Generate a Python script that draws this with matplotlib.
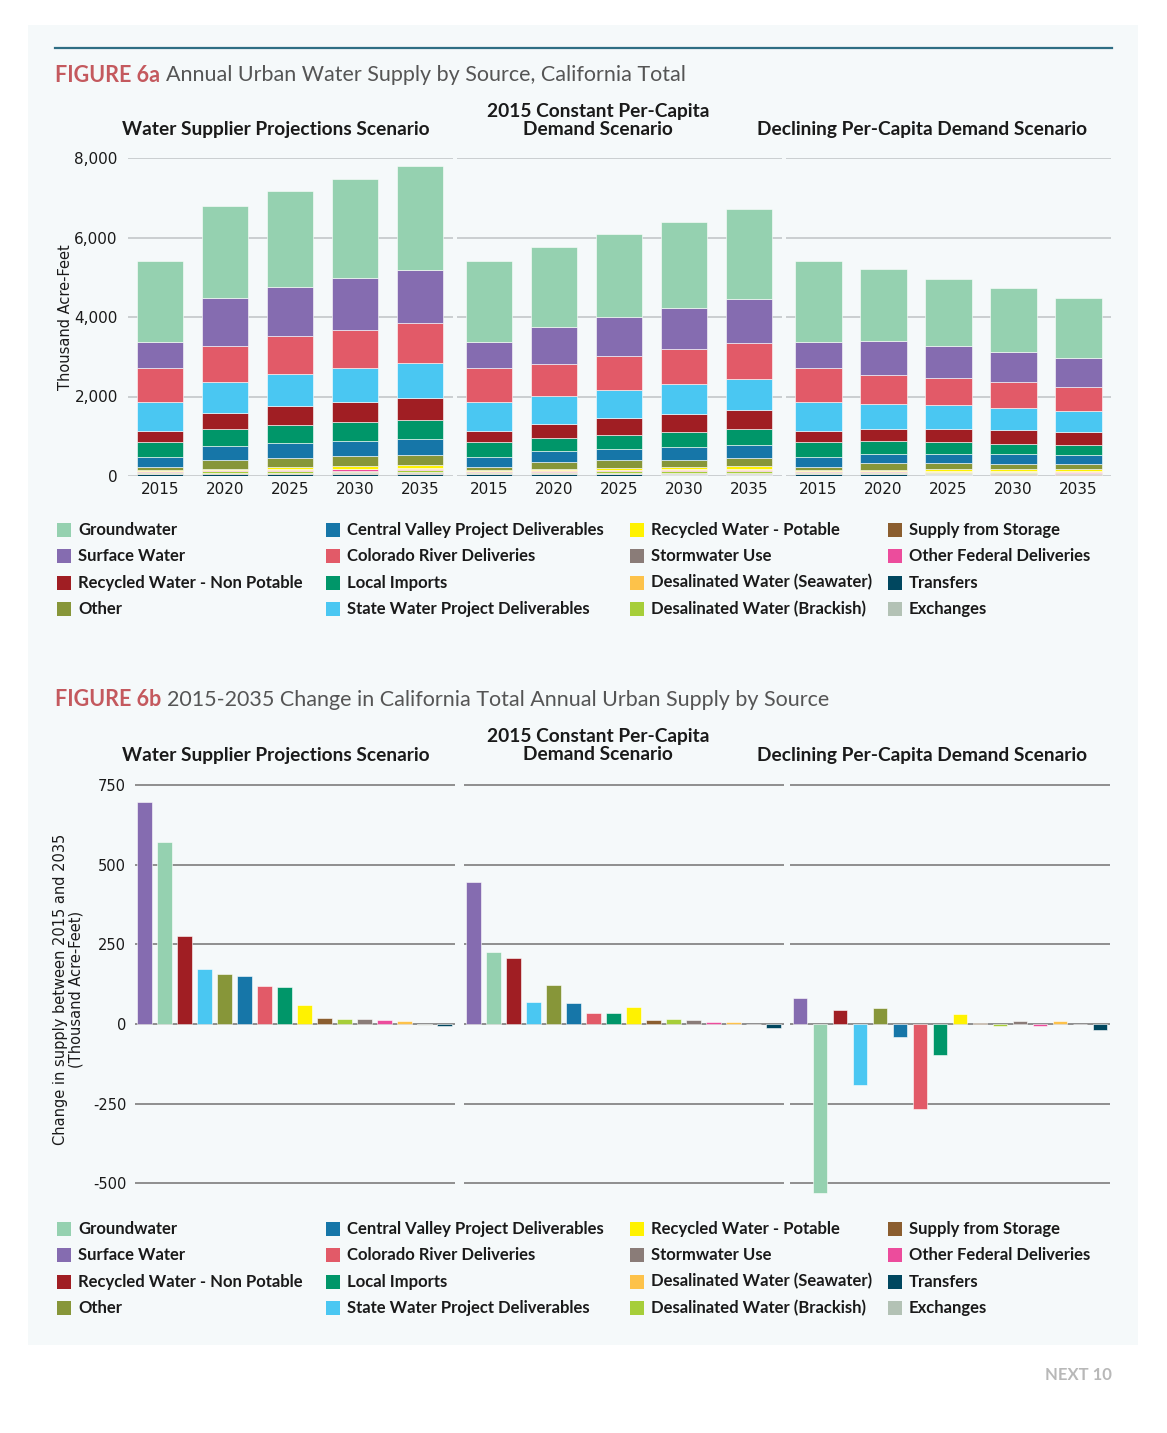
import numpy as np
import matplotlib
matplotlib.use('Agg')
import matplotlib.pyplot as plt
from matplotlib.patches import Rectangle

W, H = 1167, 1433
plt.rcParams['font.family'] = ['Lato', 'DejaVu Sans']

# ---- data: figure 6a, 15 bars = 3 scenarios x 5 years (thousand acre-feet)
years = ['2015', '2020', '2025', '2030', '2035']
scenarios = ['Water Supplier Projections Scenario',
             '2015 Constant Per-Capita\nDemand Scenario',
             'Declining Per-Capita Demand Scenario']

groundwater = [2046, 2315, 2408, 2509, 2618, 2046, 2003, 2071, 2174, 2272, 2046, 1794, 1685, 1600, 1515]
surface = [654, 1208, 1233, 1291, 1352, 654, 949, 998, 1032, 1099, 654, 873, 815, 765, 737]
colorado = [865, 906, 946, 956, 985, 865, 805, 831, 880, 899, 865, 730, 687, 644, 599]
swp = [720, 762, 822, 855, 892, 720, 697, 729, 745, 788, 720, 611, 586, 564, 528]
rec_np = [277, 412, 461, 521, 553, 277, 342, 403, 463, 485, 277, 320, 328, 334, 321]
local = [369, 418, 463, 470, 486, 369, 345, 370, 385, 403, 369, 309, 301, 269, 271]
cvp = [252, 352, 367, 385, 404, 252, 269, 284, 302, 319, 252, 244, 244, 234, 210]
other = [83, 227, 237, 244, 240, 83, 172, 185, 186, 204, 83, 155, 147, 140, 132]
rec_potable = [25, 30, 50, 62, 85, 25, 35, 50, 65, 77, 25, 35, 45, 52, 55]
seawater = [10, 12, 15, 17, 19, 10, 12, 14, 15, 16, 10, 13, 15, 17, 19]
other_fed = [20, 25, 28, 31, 33, 20, 22, 23, 24, 25, 20, 17, 15, 14, 13]
brackish = [30, 38, 43, 46, 47, 30, 35, 40, 43, 45, 30, 28, 27, 26, 25]
stormwater = [10, 15, 20, 23, 26, 10, 13, 18, 21, 24, 10, 13, 15, 17, 19]
storage = [10, 18, 22, 26, 29, 10, 13, 16, 20, 22, 10, 11, 12, 13, 13]
exchanges = [5, 5, 4, 4, 3, 5, 5, 4, 4, 4, 5, 5, 4, 4, 4]
transfers = [45, 40, 40, 39, 38, 45, 42, 40, 37, 34, 45, 40, 35, 31, 27]

# ---- data: figure 6b, change 2015-2035 (bar order below)
change_supplier = [698, 572, 276, 172, 157, 152, 120, 117, 60, 19, 17, 16, 13, 9, -2, -7]
change_constant = [445, 226, 208, 68, 121, 67, 34, 34, 52, 12, 15, 14, 5, 6, -1, -11]
change_declining = [83, -531, 44, -192, 49, -42, -266, -98, 30, 3, -5, 9, -7, 9, -1, -18]

colors = {
    'Groundwater': '#95d1b0', 'Surface Water': '#856cb0',
    'Recycled Water - Non Potable': '#a01e23', 'Other': '#879639',
    'Central Valley Project Deliverables': '#1676a8', 'Colorado River Deliveries': '#e25a68',
    'Local Imports': '#009669', 'State Water Project Deliverables': '#4ac7f2',
    'Recycled Water - Potable': '#fff200', 'Stormwater Use': '#8a7c78',
    'Desalinated Water (Seawater)': '#fdc24a', 'Desalinated Water (Brackish)': '#a6ce39',
    'Supply from Storage': '#8b5e2f', 'Other Federal Deliveries': '#ec4c9c',
    'Transfers': '#00475f', 'Exchanges': '#b3c2b5',
}

stack = [('Transfers', transfers), ('Exchanges', exchanges), ('Supply from Storage', storage),
         ('Stormwater Use', stormwater), ('Desalinated Water (Brackish)', brackish),
         ('Other Federal Deliveries', other_fed), ('Desalinated Water (Seawater)', seawater),
         ('Recycled Water - Potable', rec_potable), ('Other', other),
         ('Central Valley Project Deliverables', cvp), ('Local Imports', local),
         ('Recycled Water - Non Potable', rec_np), ('State Water Project Deliverables', swp),
         ('Colorado River Deliveries', colorado), ('Surface Water', surface), ('Groundwater', groundwater)]

change_order = ['Surface Water', 'Groundwater', 'Recycled Water - Non Potable',
                'State Water Project Deliverables', 'Other', 'Central Valley Project Deliverables',
                'Colorado River Deliveries', 'Local Imports', 'Recycled Water - Potable',
                'Supply from Storage', 'Desalinated Water (Brackish)', 'Stormwater Use',
                'Other Federal Deliveries', 'Desalinated Water (Seawater)', 'Exchanges', 'Transfers']

legend_cols = [['Groundwater', 'Surface Water', 'Recycled Water - Non Potable', 'Other'],
               ['Central Valley Project Deliverables', 'Colorado River Deliveries',
                'Local Imports', 'State Water Project Deliverables'],
               ['Recycled Water - Potable', 'Stormwater Use',
                'Desalinated Water (Seawater)', 'Desalinated Water (Brackish)'],
               ['Supply from Storage', 'Other Federal Deliveries', 'Transfers', 'Exchanges']]

BG = '#f5f9fa'
TXT = '#1a1a1a'


def fx(px):
    return px / W


def fy(py):
    return 1 - py / H


def axes_px(fig, left, top, right, bottom):
    ax = fig.add_axes([fx(left), fy(bottom), (right - left) / W, (bottom - top) / H])
    ax.set_facecolor('none')
    for s in ax.spines.values():
        s.set_visible(False)
    ax.tick_params(length=0)
    return ax


fig = plt.figure(figsize=(W / 100, H / 100), dpi=100)
fig.patch.set_facecolor('white')
fig.patches.append(Rectangle((fx(28), fy(1345)), (1138 - 28) / W, (1345 - 25) / H,
                             transform=fig.transFigure, facecolor=BG, edgecolor='none', zorder=-10))
fig.add_artist(plt.Line2D([fx(55), fx(1112)], [fy(48), fy(48)], color='#2f6e84', lw=1.6))


def figure_title(y, tag, text):
    t = fig.text(fx(55), fy(y), tag, color='#c4595e', fontsize=15.5, fontweight='bold', va='center')
    fig.canvas.draw()
    bb = t.get_window_extent()
    fig.text(bb.x1 / W + 0.005, fy(y), text, color='#555555', fontsize=15.5, va='center')


def headers(y):
    kw = dict(ha='center', va='center', fontsize=13.8, fontweight='bold', color=TXT)
    fig.text(fx(276), fy(y), scenarios[0], **kw)
    fig.text(fx(598), fy(y - 9.5), scenarios[1], linespacing=1.05, **kw)
    fig.text(fx(922), fy(y), scenarios[2], **kw)


def legend(y0):
    xs = [57, 326, 630, 888]
    for c, names in enumerate(legend_cols):
        for r, name in enumerate(names):
            y = y0 + r * 26.3
            fig.patches.append(Rectangle((fx(xs[c]), fy(y + 7)), 14 / W, 14 / H, transform=fig.transFigure,
                                         facecolor=colors[name], edgecolor='none'))
            fig.text(fx(xs[c] + 21), fy(y), name, fontsize=12, fontweight='bold', color=TXT, va='center')


# ---------------- Figure 6a
figure_title(75, 'FIGURE 6a', 'Annual Urban Water Supply by Source, California Total')
headers(130)
panels_a = [(127.5, 452.5), (456.5, 781.5), (786, 1111)]
for p, (l, r) in enumerate(panels_a):
    ax = axes_px(fig, l, 158, r, 476)
    x = np.arange(5)
    bottom = np.zeros(5)
    for name, vals in stack:
        v = np.array(vals[p * 5:(p + 1) * 5], dtype=float)
        ax.bar(x, v, 0.72, bottom=bottom, color=colors[name], edgecolor='white', linewidth=0.4, zorder=3)
        bottom += v
    ax.set_xlim(-0.5, 4.5)
    ax.set_ylim(0, 8000)
    ax.set_yticks([0, 2000, 4000, 6000, 8000])
    ax.grid(axis='y', color='#bfc3c5', lw=1.1, zorder=0)
    ax.set_xticks(x)
    ax.set_xticklabels(years, fontsize=11, color=TXT, family='DejaVu Sans')
    ax.tick_params(axis='x', pad=4)
    if p == 0:
        ax.set_yticklabels(['0', '2,000', '4,000', '6,000', '8,000'], fontsize=11, color=TXT,
                           family='DejaVu Sans')
        ax.tick_params(axis='y', pad=7)
        ax.set_ylabel('Thousand Acre-Feet', fontsize=10.5, color=TXT, family='DejaVu Sans', labelpad=1)
    else:
        ax.set_yticklabels([])

legend(530)

# ---------------- Figure 6b
figure_title(700, 'FIGURE 6b', '2015-2035 Change in California Total Annual Urban Supply by Source')
headers(755)
panels_b = [(134.5, 454.5), (463.5, 783.5), (790, 1110)]
changes = [change_supplier, change_constant, change_declining]
top_px, bottom_px = 1024 - 760 * 0.3187, 1024 + 540 * 0.3187
for p, (l, r) in enumerate(panels_b):
    ax = axes_px(fig, l, top_px, r, bottom_px)
    x = np.arange(16)
    ax.bar(x, changes[p], 0.74, color=[colors[n] for n in change_order],
           edgecolor='white', linewidth=0.4, zorder=3)
    ax.set_xlim(-0.5, 15.5)
    ax.set_ylim(-540, 760)
    ax.set_yticks([-500, -250, 0, 250, 500, 750])
    ax.grid(axis='y', color='#7d7d7d', lw=1.2, zorder=0)
    ax.set_xticks([])
    if p == 0:
        ax.set_yticklabels(['-500', '-250', '0', '250', '500', '750'], fontsize=10.5, color=TXT,
                           family='DejaVu Sans')
        ax.tick_params(axis='y', pad=6)
        ax.set_ylabel('Change in supply between 2015 and 2035\n(Thousand Acre-Feet)', fontsize=10.5,
                      color=TXT, family='DejaVu Sans', labelpad=7, linespacing=1.0)
    else:
        ax.set_yticklabels([])

legend(1229)

fig.text(fx(1112), fy(1375), 'NEXT 10', ha='right', va='center', fontsize=12,
         fontweight='bold', color='#b8b8b8')

fig.savefig('out.png', dpi=100, facecolor='white')
